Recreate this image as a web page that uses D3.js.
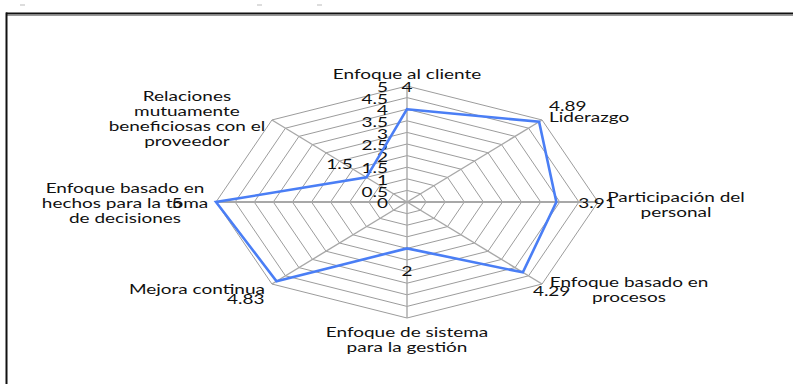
<!DOCTYPE html>
<html>
<head>
<meta charset="utf-8">
<script src="https://cdn.jsdelivr.net/npm/d3@7"></script>
<style>
  html, body { margin: 0; padding: 0; background: #fff; }
  svg { display: block; }
  text { font-family: Lato, "Open Sans", sans-serif; fill: #111; }
</style>
</head>
<body>
<svg id="chart" width="793" height="384"></svg>
<script>
// ---- data ----
const categories = [
  "Enfoque al cliente",
  "Liderazgo",
  "Participación del personal",
  "Enfoque basado en procesos",
  "Enfoque de sistema para la gestión",
  "Mejora continua",
  "Enfoque basado en hechos para la toma de decisiones",
  "Relaciones mutuamente beneficiosas con el proveedor"
];
const categoryLines = [
  ["Enfoque al cliente"],
  ["Liderazgo"],
  ["Participación del", "personal"],
  ["Enfoque basado en", "procesos"],
  ["Enfoque de sistema", "para la gestión"],
  ["Mejora continua"],
  ["Enfoque basado en", "hechos para la toma", "de decisiones"],
  ["Relaciones", "mutuamente", "beneficiosas con el", "proveedor"]
];
const values = [4, 4.89, 3.91, 4.29, 2, 4.83, 5, 1.5];
const valueLabels = ["4", "4.89", "3.91", "4.29", "2", "4.83", "5", "1.5"];
const tickValues = [0, 0.5, 1, 1.5, 2, 2.5, 3, 3.5, 4, 4.5, 5];
const tickLabels = ["0", "0.5", "1", "1.5", "2", "2.5", "3", "3.5", "4", "4.5", "5"];

// ---- layout ----
const cx = 407, cy = 202, rx = 191, ry = 116;
const sx = 1.46;            // horizontal stretch of text (stretched picture)
const fontSize = 13;
const lineH = 15;

// category label placement relative to outer vertex
const catLayout = [
  { anchor: "middle", dx: 0,    dy: -12 },
  { anchor: "start",  dx: 7,    dy: -3 },
  { anchor: "middle", dx: 78,   dy: -5 },
  { anchor: "middle", dx: 87,   dy: -2 },
  { anchor: "middle", dx: 0,    dy: 14 },
  { anchor: "end",    dx: -7,   dy: 5 },
  { anchor: "middle", dx: -91,  dy: -14 },
  { anchor: "middle", dx: -85,  dy: -24 }
];
// value label placement relative to data point
const valLayout = [
  { anchor: "middle", dx: 0,   dy: -22 },
  { anchor: "start",  dx: 10,  dy: -16 },
  { anchor: "start",  dx: 22,  dy: 1 },
  { anchor: "start",  dx: 10,  dy: 18 },
  { anchor: "middle", dx: 0,   dy: 22 },
  { anchor: "end",    dx: -12, dy: 18 },
  { anchor: "middle", dx: -39, dy: 1 },
  { anchor: "middle", dx: -27, dy: -14 }
];

const svg = d3.select("#chart");

// frame
svg.append("line").attr("x1", 6).attr("x2", 793).attr("y1", 13.5).attr("y2", 13.5)
  .attr("stroke", "#111").attr("stroke-width", 2);
svg.append("line").attr("x1", 6).attr("x2", 793).attr("y1", 15.5).attr("y2", 15.5)
  .attr("stroke", "#999").attr("stroke-width", 1);
svg.append("line").attr("x1", 6.5).attr("x2", 6.5).attr("y1", 12.5).attr("y2", 384)
  .attr("stroke", "#111").attr("stroke-width", 2);
// small artifacts at top
[[20, 5], [257, 5], [317, 5]].forEach(([x, y]) => {
  svg.append("line").attr("x1", x).attr("x2", x + 5).attr("y1", y).attr("y2", y)
    .attr("stroke", "#bbb").attr("stroke-width", 1);
});

const r = d3.scaleLinear().domain([0, 5]).range([0, 1]);
const xs = d3.scaleLinear().domain([-1, 1]).range([cx - rx, cx + rx]);
const ys = d3.scaleLinear().domain([-1, 1]).range([cy + ry, cy - ry]);
const n = categories.length;
const angle = i => i * 2 * Math.PI / n;
const px = (i, v) => xs(r(v) * Math.sin(angle(i)));
const py = (i, v) => ys(r(v) * Math.cos(angle(i)));

// grid polygons
const g = svg.append("g");
tickValues.filter(t => t > 0).forEach(t => {
  const pts = d3.range(n).map(i => [px(i, t), py(i, t)]);
  g.append("path")
    .attr("d", d3.line()(pts) + "Z")
    .attr("fill", "none").attr("stroke", "#9c9c9c").attr("stroke-width", 1);
});
// spokes
d3.range(n).forEach(i => {
  g.append("line")
    .attr("x1", px(i, 0)).attr("y1", py(i, 0))
    .attr("x2", px(i, 5)).attr("y2", py(i, 5))
    .attr("stroke", "#a8a8a8").attr("stroke-width", (i % 4 === 2) ? 2 : 1.4);
});

// text helper
function txt(x, y, s, anchor) {
  svg.append("text")
    .attr("transform", `translate(${x},${y}) scale(${sx},1)`)
    .attr("text-anchor", anchor)
    .attr("dominant-baseline", "central")
    .attr("font-size", fontSize)
    .text(s);
}

// tick labels along first axis
tickValues.forEach((t, k) => {
  txt(px(0, 0) - 19, py(0, t) + 1, tickLabels[k], "end");
});

// data series
const linePts = values.map((v, i) => [px(i, v), py(i, v)]);
svg.append("path")
  .attr("d", d3.line()(linePts) + "Z")
  .attr("fill", "none").attr("stroke", "#4a7ef5").attr("stroke-width", 2.6)
  .attr("stroke-linejoin", "miter");

// value labels
values.forEach((v, i) => {
  const L = valLayout[i];
  txt(px(i, v) + L.dx, py(i, v) + L.dy, valueLabels[i], L.anchor);
});

// category labels
categoryLines.forEach((lines, i) => {
  const L = catLayout[i];
  const x0 = px(i, 5) + L.dx, y0 = py(i, 5) + L.dy;
  lines.forEach((s, k) => txt(x0, y0 + k * lineH, s, L.anchor));
});
</script>
</body>
</html>
